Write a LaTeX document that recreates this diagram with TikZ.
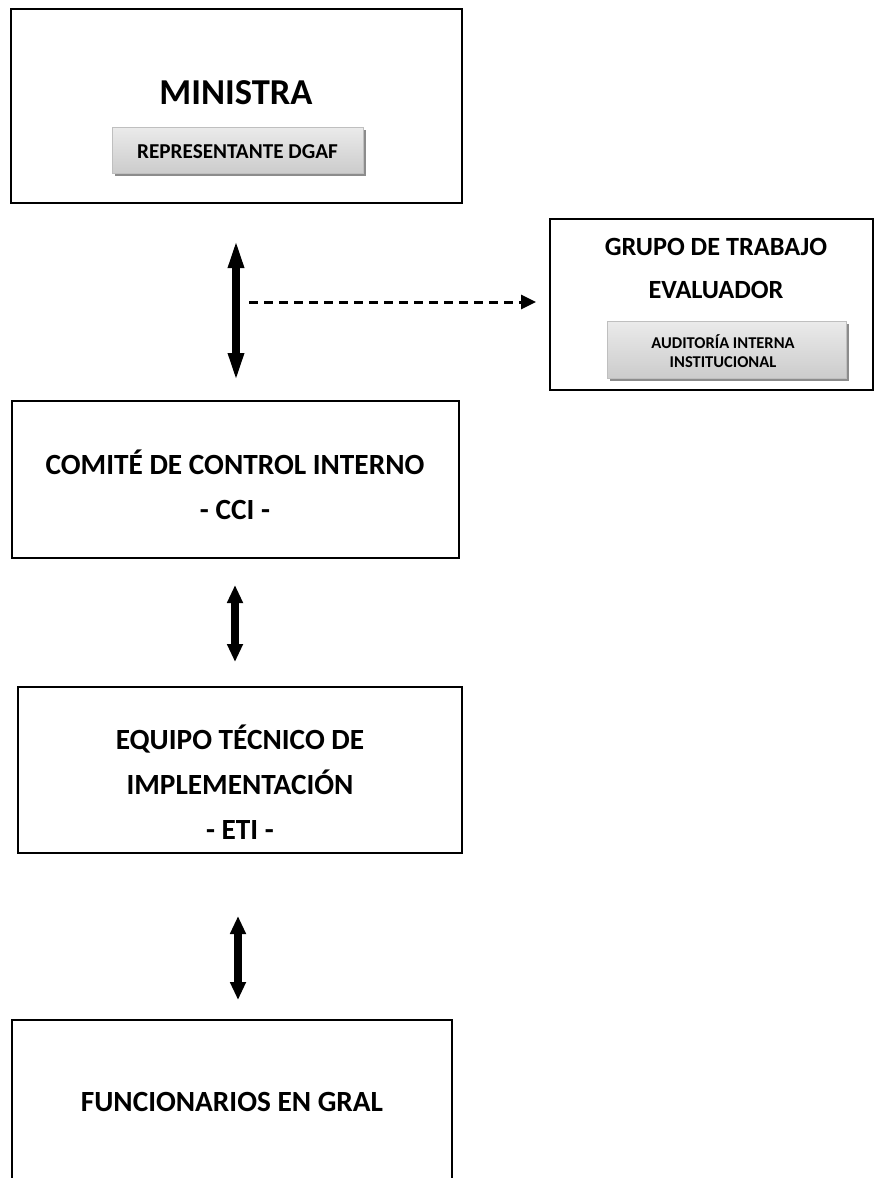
\documentclass[tikz,border=0pt]{standalone}
\usepackage{fontspec}
\setmainfont{Carlito}
\usetikzlibrary{arrows.meta,shadows}
\begin{document}
\begin{tikzpicture}[x=1pt,y=-1pt,
  mainbox/.style={draw=black,line width=1.3pt,fill=white,
    drop shadow={shadow xshift=1.2pt,shadow yshift=-1.2pt,fill=black!70,opacity=1}},
  innerbox/.style={draw=black!25,line width=0.8pt,top color=black!8,bottom color=black!20,
    drop shadow={shadow xshift=3pt,shadow yshift=-3pt,fill=black!45,opacity=1}},
  txt/.style={font=\bfseries\fontsize{29.3}{45}\selectfont,align=center,inner sep=0pt},
  bigarrow/.style={line width=7.5pt,{Triangle[length=30pt,width=14pt]}-{Triangle[length=30pt,width=14pt]}},
  smallarrow/.style={line width=7.5pt,{Triangle[length=18pt,width=15pt]}-{Triangle[length=18pt,width=15pt]}},
  dasharrow/.style={line width=3pt,dash pattern=on 9pt off 6pt,-{Triangle[length=15pt,width=14pt]}}]
\useasboundingbox (0,0) rectangle (876,1178);
% MINISTRA
\path[mainbox] (11,9) rectangle (462,203);
\node[txt,font=\bfseries\fontsize{36.5}{40}\selectfont] (min) at (236,93) {MINISTRA};
\path[innerbox] (112,127) rectangle (363,173);
\node[txt,font=\bfseries\fontsize{21.2}{24}\selectfont] (dgaf) at (237.5,152) {REPRESENTANTE DGAF};
% GRUPO
\path[mainbox] (550,219) rectangle (873,390);
\node[txt,font=\bfseries\fontsize{26.3}{43}\selectfont] (grupo) at (716,268) {GRUPO DE TRABAJO\\EVALUADOR};
\path[innerbox] (607,321) rectangle (846,378);
\node[txt,font=\bfseries\fontsize{16.5}{19.5}\selectfont] (aud) at (723,351) {AUDITORÍA INTERNA\\INSTITUCIONAL};
% CCI
\path[mainbox] (12,401) rectangle (459,558);
\node[txt] (cci) at (235,485) {COMITÉ DE CONTROL INTERNO\\- CCI -};
% ETI
\path[mainbox] (18,687) rectangle (462,853);
\node[txt] (eti) at (240,782) {EQUIPO TÉCNICO DE\\IMPLEMENTACIÓN\\- ETI -};
% FUNCIONARIOS
\path[mainbox] (12,1020) rectangle (452,1200);
\node[txt] (fun) at (232,1102) {FUNCIONARIOS EN GRAL};
% arrows
\coordinate (a1t) at (236,238);
\coordinate (a1b) at (236,383);
\draw[bigarrow] (a1t) -- (a1b);
\coordinate (d1) at (249,302);
\coordinate (d2) at (536,302);
\draw[dasharrow] (d1) -- (d2);
\coordinate (a2t) at (235,585);
\coordinate (a2b) at (235,662);
\draw[smallarrow] (a2t) -- (a2b);
\coordinate (a3t) at (238,916);
\coordinate (a3b) at (238,1000);
\draw[smallarrow] (a3t) -- (a3b);
\end{tikzpicture}
\end{document}
